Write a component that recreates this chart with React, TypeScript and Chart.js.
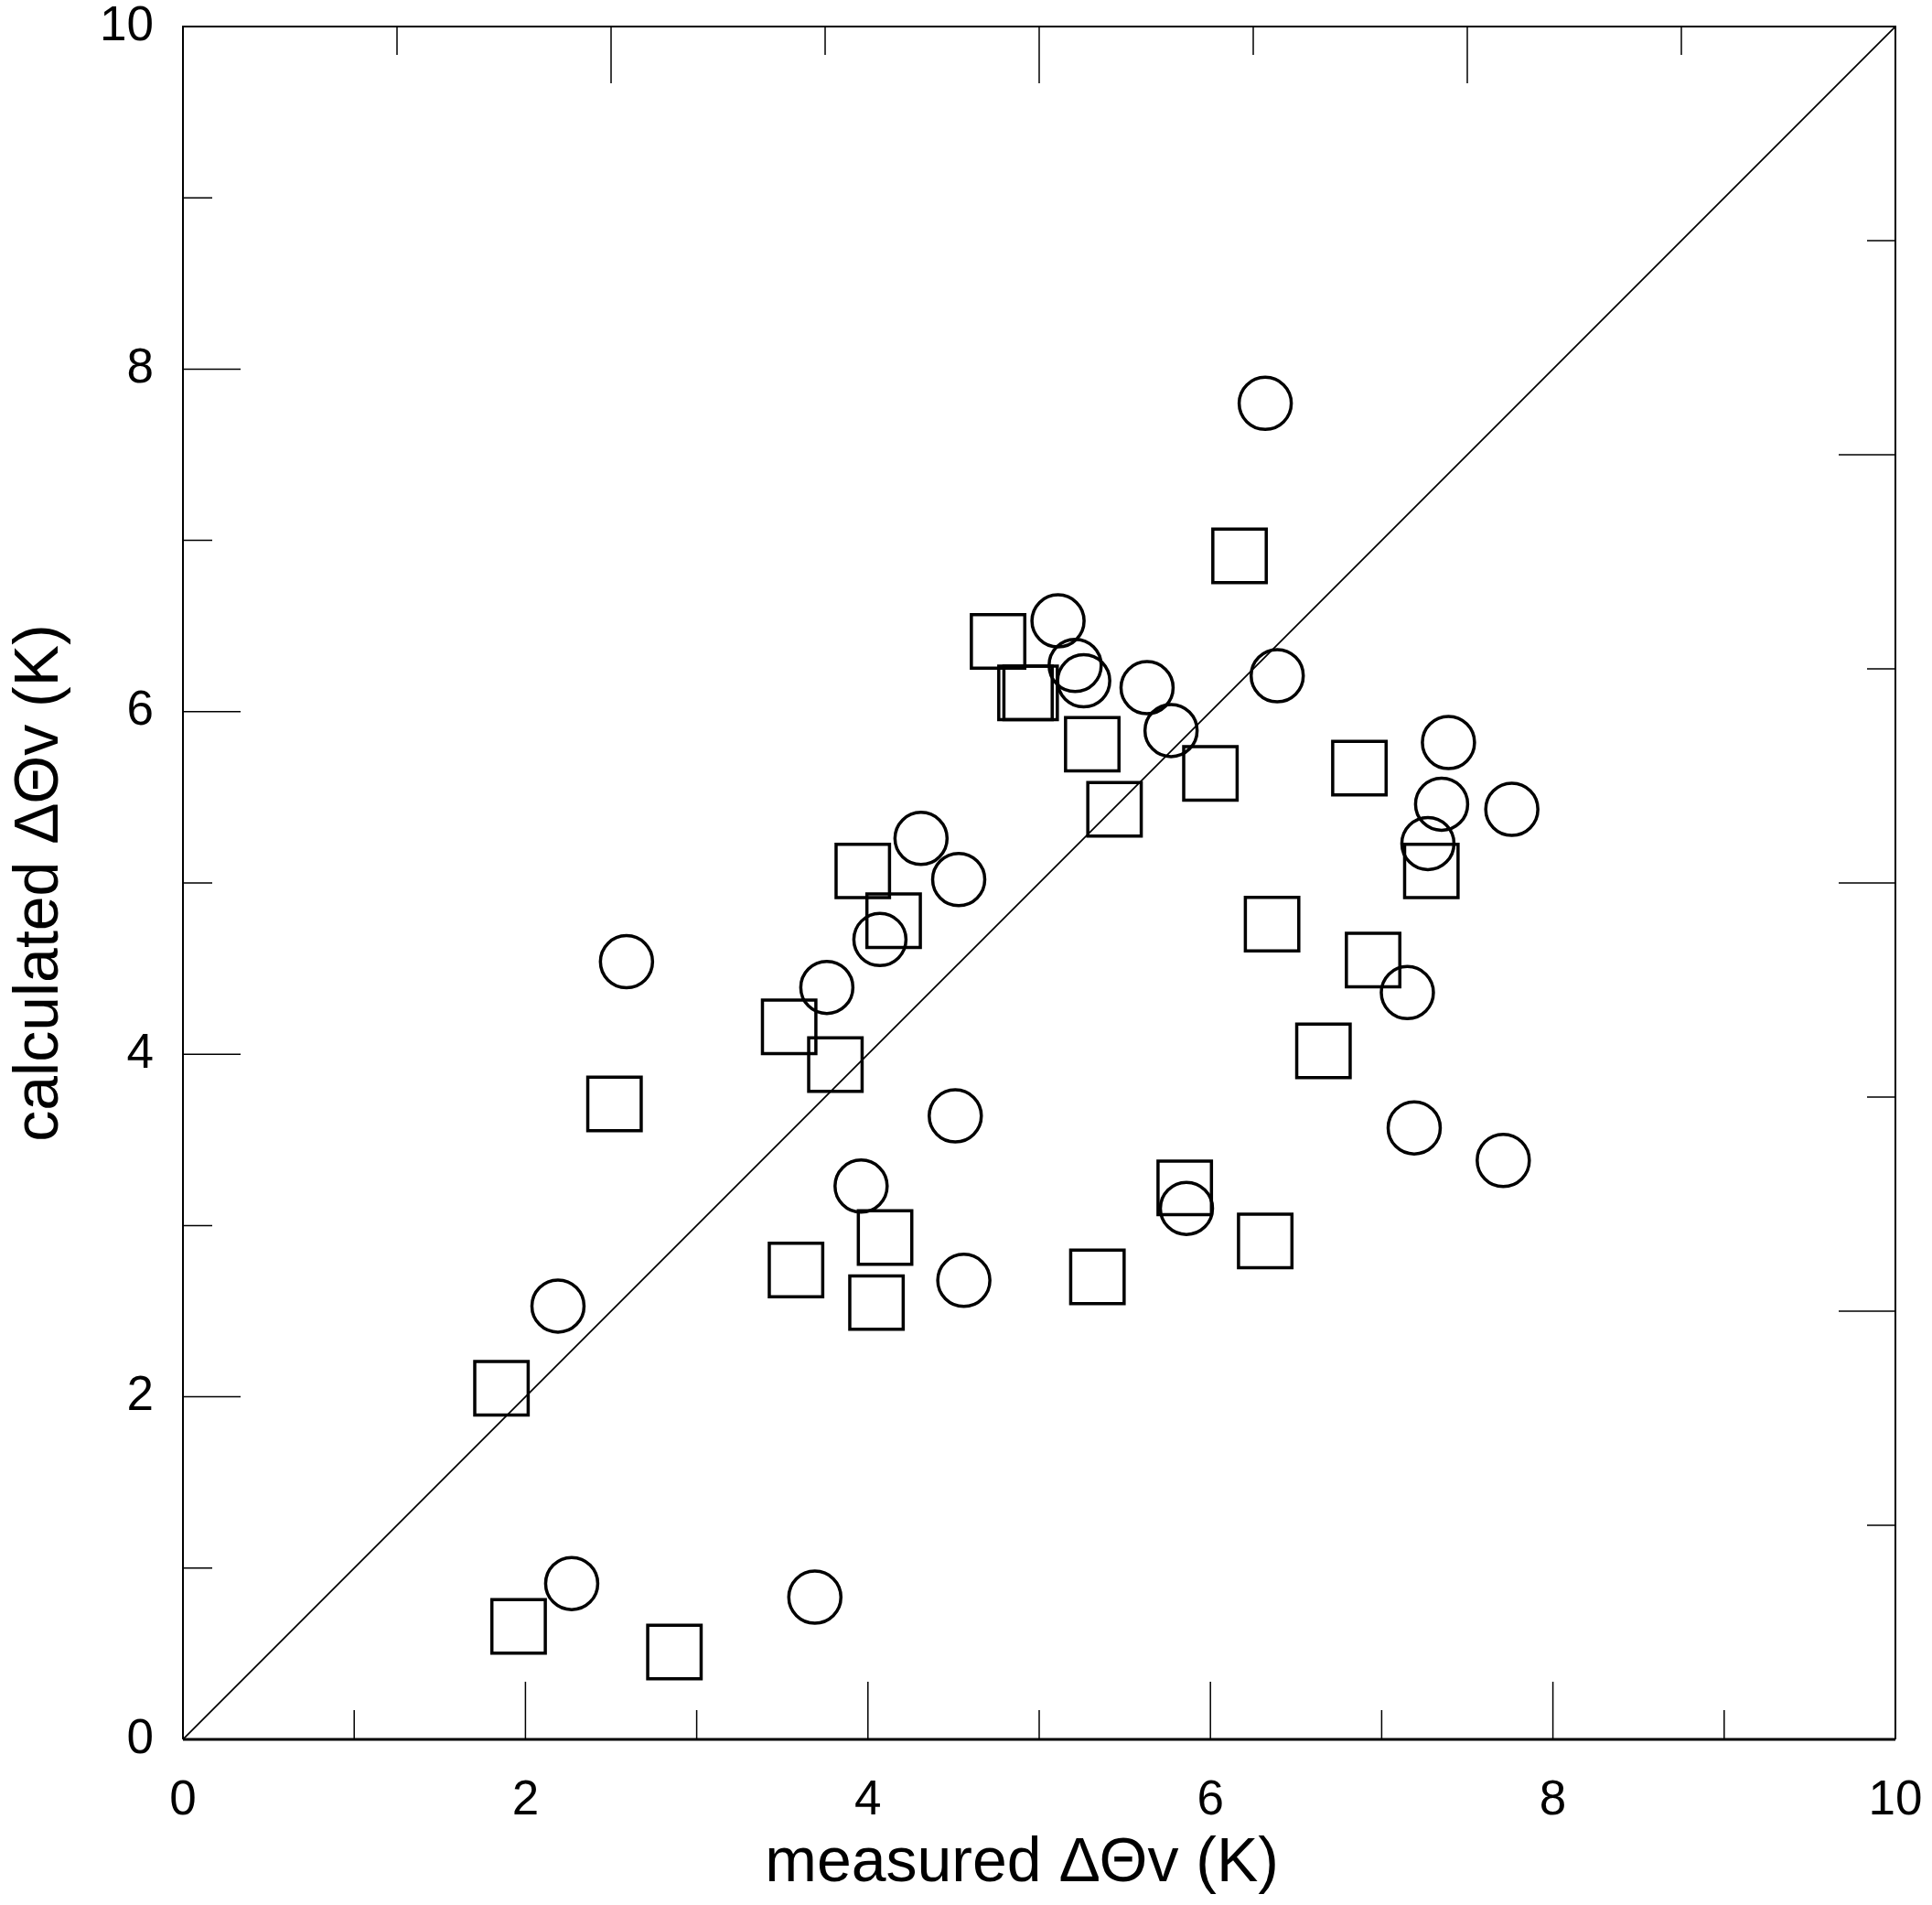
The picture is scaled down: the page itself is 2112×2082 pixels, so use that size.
import React, { useEffect, useRef } from 'react';
import { Chart, registerables } from 'chart.js';

Chart.register(...registerables);

// ---- data (measured ΔΘv vs calculated ΔΘv, K) ----
const circleMeasured = [6.32, 6.39, 5.11, 5.21, 5.26, 5.63, 5.77, 7.39, 7.35, 7.76, 7.27, 4.31, 4.53, 4.07, 2.59, 3.76, 7.15, 4.51, 7.19, 7.71, 3.96, 5.86, 4.56, 2.19, 2.27, 3.69];
const circleCalculated = [7.80, 6.21, 6.53, 6.27, 6.18, 6.14, 5.89, 5.82, 5.46, 5.43, 5.23, 5.26, 5.02, 4.67, 4.54, 4.39, 4.36, 3.64, 3.57, 3.38, 3.23, 3.10, 2.68, 2.53, 0.91, 0.83];

const squareMeasured = [6.17, 4.76, 4.92, 4.95, 5.31, 6.00, 6.87, 5.44, 3.97, 7.29, 4.15, 6.36, 6.95, 3.54, 3.81, 2.52, 6.66, 5.85, 4.10, 6.32, 3.58, 4.05, 5.34, 1.86, 1.96, 2.87];
const squareCalculated = [6.91, 6.41, 6.11, 6.11, 5.81, 5.64, 5.67, 5.43, 5.07, 5.07, 4.78, 4.76, 4.55, 4.16, 3.94, 3.71, 4.02, 3.22, 2.93, 2.91, 2.74, 2.55, 2.70, 2.05, 0.66, 0.51];

const identityLine = [0, 10];

const mainTicks = [0, 1, 2, 3, 4, 5, 6, 7, 8, 9, 10];
const tickLabels = ['0', '2', '4', '6', '8', '10'];
const frameTicks = [1.25, 2.5, 3.75, 5, 6.25, 7.5, 8.75];

const xTitle = 'measured \u0394\u0398v (K)  ';
const yTitle = 'calculated \u0394\u0398v (K)';

const FONT = 'Arial, "Liberation Sans", sans-serif';

const framePlugin = {
  id: 'frame',
  afterDatasetsDraw(chart: any) {
    const { ctx, chartArea, scales } = chart;
    const { left, right, top, bottom } = chartArea;
    const x = scales.x;
    const y = scales.y;
    ctx.save();
    ctx.strokeStyle = '#000';
    ctx.lineWidth = 1.5;
    ctx.beginPath();
    mainTicks.forEach((v, i) => {
      const len = i % 2 === 0 ? 63 : 32;
      const px = x.getPixelForValue(v);
      ctx.moveTo(px, bottom);
      ctx.lineTo(px, bottom - len);
      const py = y.getPixelForValue(v);
      ctx.moveTo(left, py);
      ctx.lineTo(left + len, py);
    });
    frameTicks.forEach((v) => {
      const major = Math.abs(v / 2.5 - Math.round(v / 2.5)) < 1e-6;
      const len = major ? 62 : 31;
      const px = x.getPixelForValue(v);
      ctx.moveTo(px, top);
      ctx.lineTo(px, top + len);
      const py = y.getPixelForValue(v);
      ctx.moveTo(right, py);
      ctx.lineTo(right - len, py);
    });
    ctx.stroke();

    ctx.lineWidth = 2;
    ctx.beginPath();
    ctx.moveTo(left, bottom);
    ctx.lineTo(left, top);
    ctx.lineTo(right, top);
    ctx.lineTo(right, bottom);
    ctx.stroke();
    ctx.lineWidth = 3;
    ctx.beginPath();
    ctx.moveTo(left, bottom);
    ctx.lineTo(right, bottom);
    ctx.stroke();
    ctx.restore();
  },
};

function ScatterChart() {
  const canvasRef = useRef<HTMLCanvasElement | null>(null);

  useEffect(() => {
    const canvas = canvasRef.current;
    if (!canvas) return;
    const circles = circleMeasured.map((m, i) => ({ x: m, y: circleCalculated[i] }));
    const squares = squareMeasured.map((m, i) => ({ x: m, y: squareCalculated[i] }));
    const line = identityLine.map((v) => ({ x: v, y: v }));

    const chart = new Chart(canvas, {
      type: 'scatter',
      data: {
        datasets: [
          {
            label: 'circles',
            data: circles,
            pointStyle: 'circle',
            pointRadius: 28.5,
            pointHoverRadius: 28.5,
            borderWidth: 3.5,
            pointBorderWidth: 3.5,
            borderColor: '#000',
            pointBorderColor: '#000',
            backgroundColor: 'rgba(0,0,0,0)',
            pointBackgroundColor: 'rgba(0,0,0,0)',
            clip: false,
          },
          {
            label: 'squares',
            data: squares,
            pointStyle: 'rect',
            pointRadius: 41.3,
            pointHoverRadius: 41.3,
            borderWidth: 3.5,
            pointBorderWidth: 3.5,
            borderColor: '#000',
            pointBorderColor: '#000',
            backgroundColor: 'rgba(0,0,0,0)',
            pointBackgroundColor: 'rgba(0,0,0,0)',
            clip: false,
          },
          {
            label: '1:1',
            data: line,
            showLine: true,
            pointRadius: 0,
            borderWidth: 1.7,
            borderColor: '#000',
            backgroundColor: '#000',
          },
        ],
      },
      options: {
        animation: false,
        responsive: false,
        events: [],
        layout: { autoPadding: false, padding: { top: 29, right: 40, left: 0, bottom: 0 } },
        plugins: {
          legend: { display: false },
          tooltip: { enabled: false },
        },
        scales: {
          x: {
            type: 'linear',
            position: 'bottom',
            min: 0,
            max: 10,
            grid: { display: false, drawTicks: false },
            border: { display: false },
            ticks: {
              stepSize: 2,
              autoSkip: false,
              maxRotation: 0,
              padding: 36,
              color: '#000',
              font: { family: FONT, size: 53 },
              callback: (_v: any, i: number) => tickLabels[i],
            },
            title: {
              display: true,
              text: xTitle,
              color: '#000',
              font: { family: FONT, size: 68 },
              padding: { top: 0, bottom: 4 },
            },
            afterFit: (s: any) => {
              s.height = 181;
              s.paddingLeft = 0;
              s.paddingRight = 0;
            },
          },
          y: {
            type: 'linear',
            position: 'left',
            min: 0,
            max: 10,
            grid: { display: false, drawTicks: false },
            border: { display: false },
            ticks: {
              stepSize: 2,
              autoSkip: false,
              padding: 32,
              color: '#000',
              font: { family: FONT, size: 53 },
              callback: (_v: any, i: number) => tickLabels[i],
            },
            title: {
              display: true,
              text: yTitle,
              color: '#000',
              font: { family: FONT, size: 68 },
              padding: { top: 3, bottom: 0 },
            },
            afterFit: (s: any) => {
              s.width = 200;
              s.paddingTop = 0;
              s.paddingBottom = 0;
            },
          },
        },
      },
      plugins: [framePlugin],
    });
    return () => chart.destroy();
  }, []);

  return (
    <div style={{ position: 'absolute', left: 0, top: 0, width: 2112, height: 2082, background: '#fff' }}>
      <canvas ref={canvasRef} width={2112} height={2082} style={{ display: 'block', width: 2112, height: 2082 }} />
    </div>
  );
}

export default function App() {
  return <ScatterChart />;
}
